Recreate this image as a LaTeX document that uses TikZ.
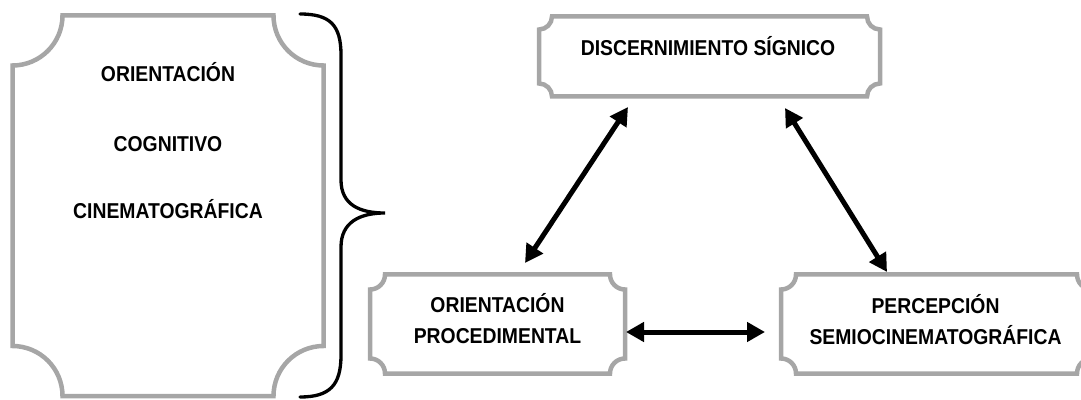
\documentclass[tikz,border=0pt]{standalone}
\usepackage{fontspec}
\setmainfont{Liberation Sans}
\newfontfamily\narrowsans[FakeStretch=0.9]{Liberation Sans}
\usetikzlibrary{arrows.meta,calc}
\definecolor{framegray}{RGB}{166,166,166}
\newcommand\plaqueframe[2]{%
  \draw[frame] let \p1=(#1.north west), \p2=(#1.south east) in
    (\x1+#2,\y1) -- (\x2-#2,\y1)
    arc[start angle=180,end angle=270,radius=#2] -- (\x2,\y2+#2)
    arc[start angle=90,end angle=180,radius=#2] -- (\x1+#2,\y2)
    arc[start angle=0,end angle=90,radius=#2] -- (\x1,\y1-#2)
    arc[start angle=270,end angle=360,radius=#2] -- cycle;}
\begin{document}
\begin{tikzpicture}[x=1pt,y=1pt,
  frame/.style={draw=framegray,line width=4.5pt,line join=miter},
  plaque/.style={inner sep=0pt,outer sep=0pt,draw=none},
  lbl/.style={font=\narrowsans\bfseries\fontsize{21.5}{24}\selectfont,anchor=base,inner sep=0pt},
  dbl/.style={line width=5pt,{Triangle[length=18pt,width=19pt]}-{Triangle[length=18pt,width=19pt]}},
  brace/.style={line width=3.3pt,line cap=round}]
\useasboundingbox (0,0) rectangle (1081,399);
% frames
\node[plaque,minimum width=311pt,minimum height=380.5pt] (L) at (168,193.25) {};
\node[plaque,minimum width=341pt,minimum height=80pt] (T) at (709.5,342.5) {};
\node[plaque,minimum width=255pt,minimum height=99pt] (PL) at (497.5,75) {};
\node[plaque,minimum width=311pt,minimum height=99pt] (PR) at (936.5,75) {};
\plaqueframe{L}{50pt}
\plaqueframe{T}{13pt}
\plaqueframe{PL}{15pt}
\plaqueframe{PR}{15pt}
% texts
\node[lbl] (L1) at (168,317.5) {ORIENTACIÓN};
\node[lbl] (L2) at (168,247.5) {COGNITIVO};
\node[lbl] (L3) at (168,180) {CINEMATOGRÁFICA};
\node[lbl] (T1) at (708,343.3) {DISCERNIMIENTO SÍGNICO};
\node[lbl] (PL1) at (497.5,86) {ORIENTACIÓN};
\node[lbl] (PL2) at (497.5,56) {PROCEDIMENTAL};
\node[lbl] (PR1) at (935.5,85.5) {PERCEPCIÓN};
\node[lbl] (PR2) at (935.5,55) {SEMIOCINEMATOGRÁFICA};
% brace
\coordinate (btop) at (300,385);
\coordinate (btip) at (385,186);
\coordinate (bbot) at (300,2);
\draw[brace] (btop) .. controls (330,385) and (341,374) .. (341,344) -- (341,219)
  .. controls (341,194) and (360,186) .. (btip)
  .. controls (360,186) and (341,177) .. (341,152) -- (341,44)
  .. controls (341,14) and (330,2) .. (bbot);
% arrows
\draw[dbl] ($(PL.north)+(27.5,11.5)$) -- ($(T.south)+(-81.5,-10.5)$);
\draw[dbl] ($(T.south)+(75.5,-11.5)$) -- ($(PR.north)+(-49.5,2.5)$);
\draw[dbl] ($(PL.east)+(1,-8)$) -- ($(PR.west)+(-16,-8)$);
\end{tikzpicture}
\end{document}
